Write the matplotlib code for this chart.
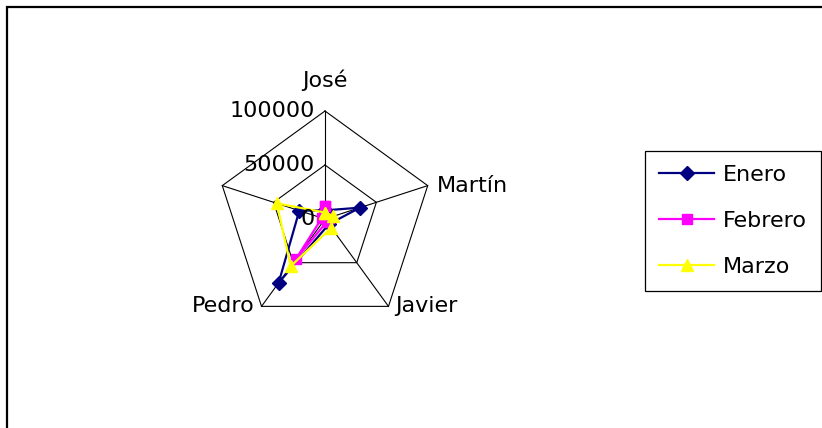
import numpy as np
import matplotlib
matplotlib.use("Agg")
import matplotlib.pyplot as plt
from matplotlib.patches import Rectangle

# ── Data ──────────────────────────────────────────────────────────────────────
categorias = ["José", "Martín", "Javier", "Pedro", ""]
enero      = [8000, 34000, 6000, 73000, 25000]
febrero    = [12000, 4000, 3000, 46000, 3000]
marzo      = [6000, 8000, 10000, 54000, 47000]
anillos    = [0, 50000, 100000]
etiquetas_anillo = ["0", "50000", "100000"]

SERIES = [
    ("Enero",   enero,   "#000080", "D", 7.0),
    ("Febrero", febrero, "#FF00FF", "s", 7.5),
    ("Marzo",   marzo,   "#FFFF00", "^", 9.0),
]

FS = 16
plt.rcParams["font.family"] = ["DejaVu Sans"]

W, H = 822, 428
fig = plt.figure(figsize=(W / 100, H / 100), dpi=100)

# outer chart-area frame (runs off the right and bottom edges)
fig.patches.append(Rectangle((7 / W, -0.1), 1.2, 1 - 7 / H + 0.1,
                             transform=fig.transFigure, fill=False,
                             ec="black", lw=1.6))

# radar centred at (325, 219) px, radius 108 px for 100000
cx, cy, R = 325, 219, 108
ax = fig.add_axes([(cx - R) / W, (H - cy - R) / H, 2 * R / W, 2 * R / H],
                  projection="polar")
ax.set_theta_offset(np.pi / 2)
ax.set_theta_direction(-1)
ax.set_ylim(0, anillos[-1])
ax.grid(False)
ax.spines["polar"].set_visible(False)
ax.set_xticks([])
ax.set_yticks([])
ax.patch.set_alpha(0)

n = len(categorias)
theta = np.arange(n) * 2 * np.pi / n
theta_c = np.append(theta, theta[0])

# pentagon rings and spokes
for r in anillos[1:]:
    ax.plot(theta_c, [r] * (n + 1), color="black", lw=0.8, clip_on=False)
for t in theta:
    ax.plot([t, t], [0, anillos[-1]], color="black", lw=0.8, clip_on=False)

# series
for name, vals, col, mk, ms in SERIES:
    v = np.append(vals, vals[0])
    ax.plot(theta_c, v, color=col, lw=1.6, marker=mk, ms=ms,
            mec=col, mfc=col, label=name, clip_on=False, zorder=3)

# ring value labels along the first spoke
for r, lab in zip(anillos, etiquetas_anillo):
    ax.annotate(lab, xy=(0, r), xytext=(-7.2, 0), textcoords="offset points",
                ha="right", va="center", fontsize=FS, zorder=4)

# category labels
offs = [((0, 17), "center", "baseline"),
        ((6.5, 0), "left", "center"),
        ((5, 0), "left", "center"),
        ((-5, 0), "right", "center"),
        ((-5, 0), "right", "center")]
for t, lab, (o, ha, va) in zip(theta, categorias, offs):
    ax.annotate(lab, xy=(t, anillos[-1]), xytext=o, textcoords="offset points",
                ha=ha, va=va, fontsize=FS)

handles, labels = ax.get_legend_handles_labels()
leg = fig.legend(handles, labels, loc="upper left",
                 bbox_to_anchor=(645 / W, 1 - 151 / H), fontsize=FS,
                 frameon=True, fancybox=False, shadow=False, framealpha=1,
                 edgecolor="black", borderaxespad=0, borderpad=0.62,
                 handlelength=2.5, handletextpad=0.4, labelspacing=1.17)
leg.get_frame().set_linewidth(0.9)

fig.savefig("out.png", dpi=100)
